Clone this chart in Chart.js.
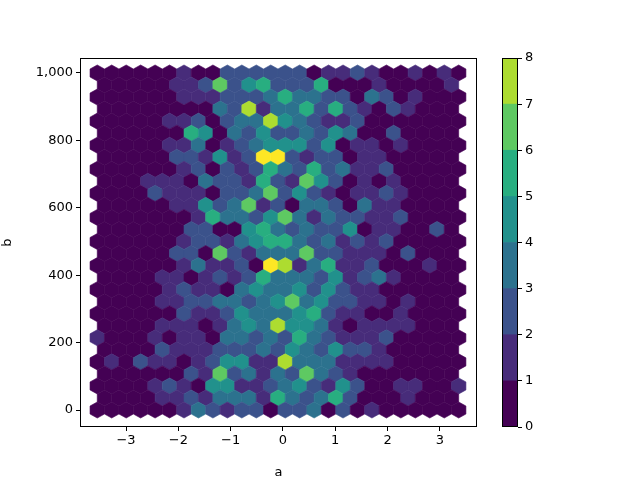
<!DOCTYPE html>
<html><head><meta charset="utf-8">
<script src="https://cdn.jsdelivr.net/npm/chart.js@4"></script>
<style>body{margin:0;background:#fff}canvas{position:absolute;top:0}</style>
</head><body>
<div style="position:absolute;left:0;top:0;width:640px;height:480px"><canvas id="main"></canvas></div>
<div style="position:absolute;left:490px;top:0;width:58px;height:480px"><canvas id="cb"></canvas></div>
<script>
// hexbin counts, rows from top (b=1000) to bottom (b=0); even rows = 26 cells, odd rows = 25 offset cells
const hexRows = [
"00000010022222201121001010",
"0000011262452225000100001",
"00000011122235332203201000",
"0000000032713352521021000",
"00000112023374321120000000",
"0000005403242232430020000",
"00000113012344424011010000",
"0000022141288212201100000",
"00000012021253252311200000",
"0001110322152164201010000",
"00002111022362421011210000",
"0000011423612033203110000",
"00000001533246313221120000",
"0000002200453232240110020",
"00000012213455323121200000",
"0000022062133362211102000",
"00000013112087135112000100",
"0000110121253332412310000",
"00000121103433424211000000",
"0000112233234634221101000",
"00000021124333452110010000",
"0000111013437443101111000",
"10001011033232532111200000",
"0000211122232432422100000",
"01021101244117333111100000",
"0000002162313263210000000",
"00001210441123421420011001",
"0000112133315323520001000",
"00000013212202230201000000"
];
const xMin = -3.55, xMax = 3.36, yMin = 0, yMax = 1000;
const nx = 25, ny = 14;
const xTicks = [-3,-2,-1,0,1,2,3];
const yTicks = [0,200,400,600,800,1000];
const cbTicks = [0,1,2,3,4,5,6,7,8];
const viridis = ['#440154','#472c7a','#3b528b','#2c728e','#21918c','#28ae80','#5ec962','#addc30','#fde725'];

const sx = (xMax - xMin) / nx, sy = (yMax - yMin) / ny;
const points = [];
hexRows.forEach((row, k) => {
  const y = yMax - k * sy / 2;
  const off = (k % 2) ? sx / 2 : 0;
  for (let i = 0; i < row.length; i++) points.push({x: xMin + off + i * sx, y: y, v: +row[i]});
});
function cmap(v){ // continuous viridis between anchors
  const t = Math.max(0, Math.min(8, v));
  return viridis[Math.round(t)];
}
const hexPlugin = {
  id: 'hex',
  beforeDatasetsDraw(chart){
    const {ctx, scales:{x, y}} = chart;
    const ds = chart.data.datasets[0].data;
    ctx.save();
    const a = chart.chartArea;
    ctx.beginPath(); ctx.rect(a.left, a.top, a.right - a.left, a.bottom - a.top); ctx.clip();
    const verts = [[.5,-.5],[.5,.5],[0,1],[-.5,.5],[-.5,-.5],[0,-1]];
    ds.forEach(p => {
      ctx.beginPath();
      verts.forEach((vv, j) => {
        const px = x.getPixelForValue(p.x + vv[0] * sx);
        const py = y.getPixelForValue(p.y + vv[1] * sy / 3);
        j ? ctx.lineTo(px, py) : ctx.moveTo(px, py);
      });
      ctx.closePath();
      ctx.fillStyle = cmap(p.v); ctx.strokeStyle = cmap(p.v); ctx.lineWidth = 0.6;
      ctx.fill(); ctx.stroke();
    });
    ctx.restore();
  },
  afterDraw(chart){
    const a = chart.chartArea, ctx = chart.ctx;
    ctx.save(); ctx.strokeStyle = '#000'; ctx.lineWidth = 1;
    ctx.strokeRect(a.left + 0.5, a.top + 0.5, a.right - a.left - 1, a.bottom - a.top - 1);
    ctx.restore();
  }
};
const font = {family: 'DejaVu Sans', size: 13};
Chart.defaults.color = '#000';
Chart.defaults.animation = false;
new Chart(document.getElementById('main'), {
  type: 'scatter',
  data: {datasets: [{data: points, pointRadius: 0, pointHoverRadius: 0}]},
  options: {
    responsive: true, maintainAspectRatio: false, events: [],
    layout: {padding: {left: 0, right: 163, top: 58, bottom: 0}},
    plugins: {legend: {display: false}, tooltip: {enabled: false}},
    scales: {
      x: {type: 'linear', min: -3.88, max: 3.71,
        afterBuildTicks: s => { s.ticks = xTicks.map(v => ({value: v})); },
        afterFit: s => { s.height = 53; },
        ticks: {font, padding: 2, callback: v => v < 0 ? '\u2212' + Math.abs(v) : '' + v},
        grid: {drawOnChartArea: false, tickLength: 4, color: '#000'}, border: {display: false},
        title: {display: true, text: 'a', font, padding: 0}},
      y: {type: 'linear', min: -50.4, max: 1044.5,
        afterBuildTicks: s => { s.ticks = yTicks.map(v => ({value: v})); },
        afterFit: s => { s.width = 80; },
        ticks: {font, padding: 3},
        grid: {drawOnChartArea: false, tickLength: 4, color: '#000'}, border: {display: false},
        title: {display: true, text: 'b', font, padding: 0}}
    }
  },
  plugins: [hexPlugin]
});
// colorbar
const cbDatasets = viridis.slice(0, 8).map((c, i) => ({data: [[cbTicks[i], cbTicks[i + 1]]], backgroundColor: c, borderWidth: 0, grouped: false, barPercentage: 1, categoryPercentage: 1}));
const cbBorder = {id: 'cbb', afterDraw(chart){ const a = chart.chartArea, ctx = chart.ctx; ctx.save(); ctx.strokeStyle = '#000'; ctx.lineWidth = 1; ctx.strokeRect(a.left + 0.5, a.top + 0.5, a.right - a.left - 1, a.bottom - a.top - 1); ctx.restore(); }};
new Chart(document.getElementById('cb'), {
  type: 'bar',
  data: {labels: [''], datasets: cbDatasets},
  options: {
    responsive: true, maintainAspectRatio: false, events: [],
    layout: {padding: {left: 12, right: 0, top: 58, bottom: 53}},
    plugins: {legend: {display: false}, tooltip: {enabled: false}},
    scales: {
      x: {display: false},
      y: {position: 'right', min: 0, max: 8,
        afterBuildTicks: s => { s.ticks = cbTicks.map(v => ({value: v})); },
        afterFit: s => { s.width = 30; },
        ticks: {font, padding: 3},
        grid: {drawOnChartArea: false, tickLength: 4, color: '#000'}, border: {display: false}}
    }
  },
  plugins: [cbBorder]
});
</script>
</body></html>
